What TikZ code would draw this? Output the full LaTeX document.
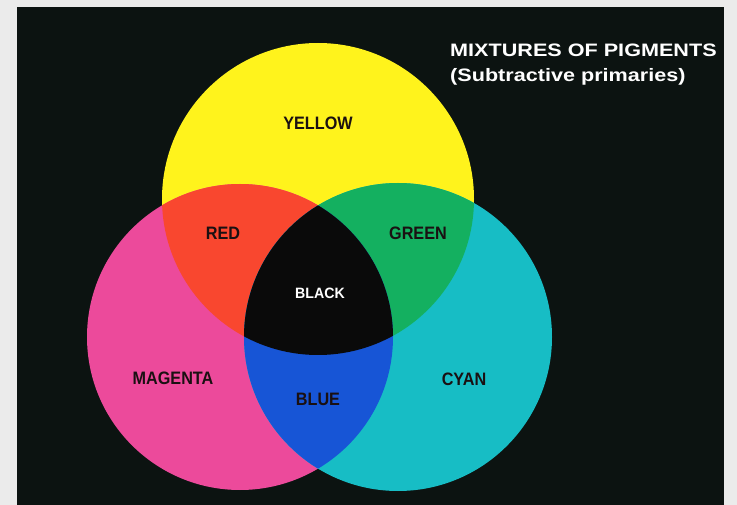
\documentclass[tikz,border=0pt]{standalone}
\usepackage{fontspec}
\setmainfont{Liberation Sans}
\usetikzlibrary{positioning}
\definecolor{PaperGrey}{HTML}{EBEBEB}
\definecolor{BoardBlack}{HTML}{0C1311}
\definecolor{InkYellow}{HTML}{FFF31C}
\definecolor{InkMagenta}{HTML}{EC4A9B}
\definecolor{InkCyan}{HTML}{17BDC5}
\definecolor{InkRed}{HTML}{F9472F}
\definecolor{InkGreen}{HTML}{14B060}
\definecolor{InkBlue}{HTML}{1755D6}
\definecolor{InkBlack}{HTML}{0A0A0A}
\definecolor{LabelInk}{HTML}{1A1012}

\begin{document}
\begin{tikzpicture}[
    x=1pt, y=-1pt,
    region/.style={font=\bfseries\fontsize{18}{18}\selectfont, text=LabelInk, xscale=0.9, inner sep=0pt},
    heading/.style={font=\bfseries\fontsize{18}{22}\selectfont, text=white, xscale=1.2, inner sep=0pt, anchor=base west}
]
  \useasboundingbox (0,0) rectangle (737,505);
  % Board
  \fill[PaperGrey] (0,0) rectangle (737,505);
  \fill[BoardBlack] (17,7) rectangle (724,505);
  % Circle centres
  \coordinate (ycen) at (318,199);
  \coordinate (mcen) at (240,337);
  \coordinate (ccen) at (398,337);
  % Primaries
  \fill[InkYellow] (ycen) circle (156);
  \fill[InkMagenta] (mcen) circle (153);
  \fill[InkCyan] (ccen) circle (154);
  % Two-way mixtures
  \begin{scope}
    \clip (ycen) circle (156);
    \fill[InkRed] (mcen) circle (153);
    \fill[InkGreen] (ccen) circle (154);
  \end{scope}
  \begin{scope}
    \clip (mcen) circle (153);
    \fill[InkBlue] (ccen) circle (154);
    % Three-way mixture
    \clip (ycen) circle (156);
    \fill[InkBlack] (ccen) circle (154);
  \end{scope}
  % Labels
  \node[region] (yellowlbl) at (318,123) {YELLOW};
  \node[region] (redlbl) at (223,233) {RED};
  \node[region] (greenlbl) at (418,233) {GREEN};
  \node[region, text=white, font=\bfseries\fontsize{15}{15}\selectfont, xscale=1.05] (blacklbl) at (320,293) {BLACK};
  \node[region] (magentalbl) at (173,378) {MAGENTA};
  \node[region] (bluelbl) at (318,399) {BLUE};
  \node[region] (cyanlbl) at (464,379) {CYAN};
  % Title
  \node[heading] (title) at (450,56.5) {MIXTURES OF PIGMENTS};
  \node[heading] (subtitle) at (450,81.5) {(Subtractive primaries)};
\end{tikzpicture}
\end{document}
